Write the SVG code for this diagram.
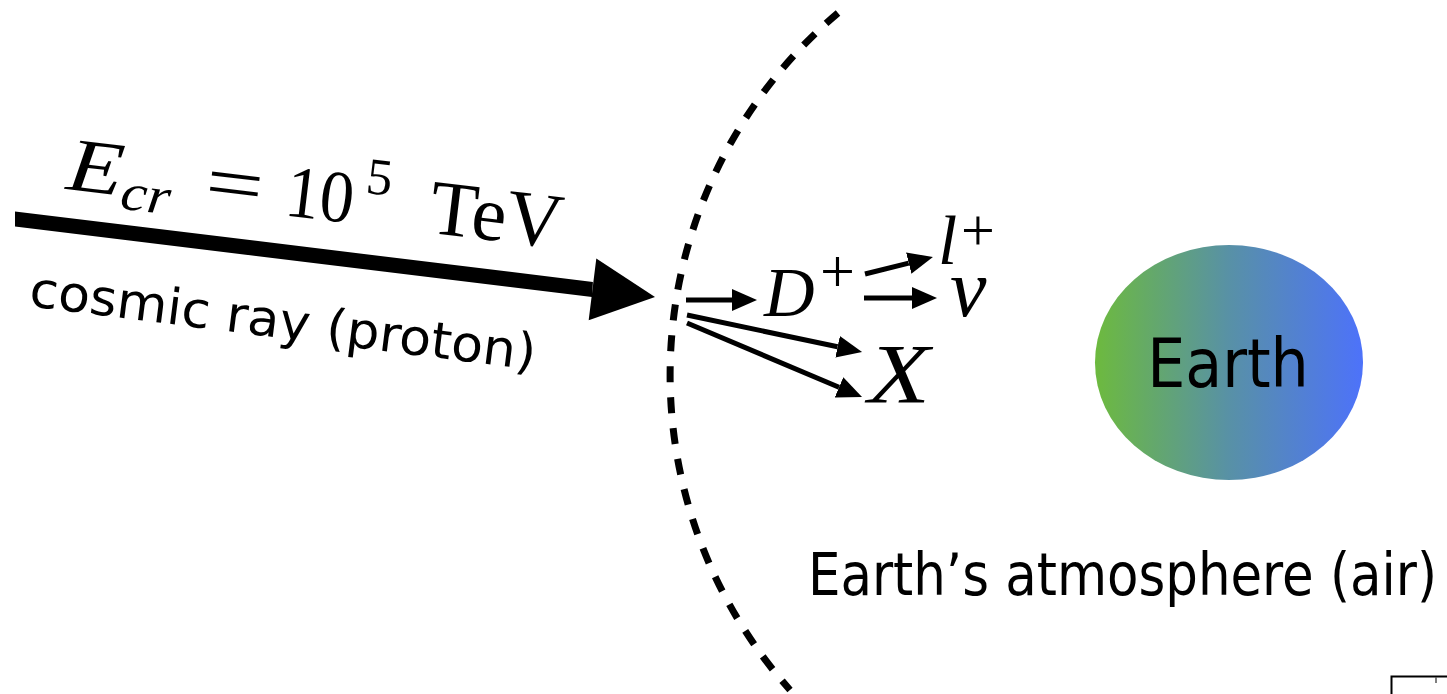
<svg xmlns="http://www.w3.org/2000/svg" width="1447" height="694" viewBox="0 0 1447 694">
<style>
.math{font-family:"Liberation Serif","Times New Roman",serif;fill:#000}
.it{font-style:italic}
.sans{font-family:"DejaVu Sans","Noto Sans",sans-serif;font-stretch:condensed;fill:#000}
.thin{stroke:#000;stroke-width:5;fill:none;marker-end:url(#head)}
</style>
<defs>
<marker id="head" viewBox="0 -12 26 24" markerWidth="26" markerHeight="24" refX="0" refY="0" markerUnits="userSpaceOnUse" orient="auto">
<path d="M0,-11 L25,0 L0,11 z" fill="#000"/>
</marker>
<linearGradient id="earthGrad" x1="0" y1="0" x2="1" y2="0">
<stop offset="0" stop-color="#6dba3e"/>
<stop offset="0.5" stop-color="#5891a6"/>
<stop offset="1" stop-color="#4d72fa"/>
</linearGradient>
</defs>
<rect width="1447" height="694" fill="#fff"/>

<g id="atmosphere">
<path d="M838,13 A474,474 0 0 0 790,690" fill="none" stroke="#000" stroke-width="7" stroke-dasharray="16 15"/>
<text class="sans" x="808" y="595" font-size="58" textLength="629" lengthAdjust="spacingAndGlyphs">Earth’s atmosphere (air)</text>
</g>

<g id="cosmic-ray">
<path d="M15,211.5 L592.9,281.9 L592.1,296.9 L15,226.5 z" fill="#000"/>
<polygon points="655,297 596.3,258.6 588.7,320.2" fill="#000"/>
<g transform="translate(65,189) rotate(6.85)">
<text class="math it" x="0" y="0" font-size="76" textLength="56" lengthAdjust="spacingAndGlyphs">E</text>
<text class="math it" x="56" y="13" font-size="52" textLength="50" lengthAdjust="spacingAndGlyphs">cr</text>
<text class="math" x="139" y="0" font-size="76" textLength="58" lengthAdjust="spacingAndGlyphs">=</text>
<text class="math" x="220" y="0" font-size="74" textLength="68" lengthAdjust="spacingAndGlyphs">10</text>
<text class="math" x="298" y="-32" font-size="52">5</text>
<text class="math" x="365" y="0" font-size="78">TeV</text>
</g>
<text class="sans" transform="translate(28,306) rotate(7.2)" font-size="50" textLength="510" lengthAdjust="spacingAndGlyphs">cosmic ray (proton)</text>
</g>

<g id="connectors">
<line class="thin" x1="686" y1="300" x2="732" y2="300"/>
<line class="thin" x1="865" y1="274" x2="908.7" y2="263.1"/>
<line class="thin" x1="864" y1="298" x2="912" y2="298"/>
<line class="thin" x1="687" y1="315" x2="837.6" y2="346.8"/>
<line class="thin" x1="687" y1="323" x2="839" y2="387.3"/>
</g>

<g id="D-plus">
<text class="math it" x="764" y="316" font-size="70">D</text>
<text class="math" x="820" y="292" font-size="62">+</text>
</g>
<g id="lepton">
<text class="math it" x="938" y="264" font-size="69">l</text>
<text class="math" x="961" y="250" font-size="60">+</text>
</g>
<g id="neutrino">
<text class="math it" x="950" y="316" font-size="82">ν</text>
</g>
<g id="X">
<text class="math it" x="868" y="403" font-size="84" textLength="62" lengthAdjust="spacingAndGlyphs">X</text>
</g>

<g id="earth">
<ellipse cx="1229" cy="362.5" rx="134" ry="117.5" fill="url(#earthGrad)"/>
<text class="sans" x="1228" y="387" font-size="67" text-anchor="middle">Earth</text>
</g>

<g id="corner">
<path d="M1391.5,694 V676.5 H1447" fill="none" stroke="#000" stroke-width="2"/>
<path d="M1436,677 V683" stroke="#555" stroke-width="1.5"/>
</g>
</svg>
